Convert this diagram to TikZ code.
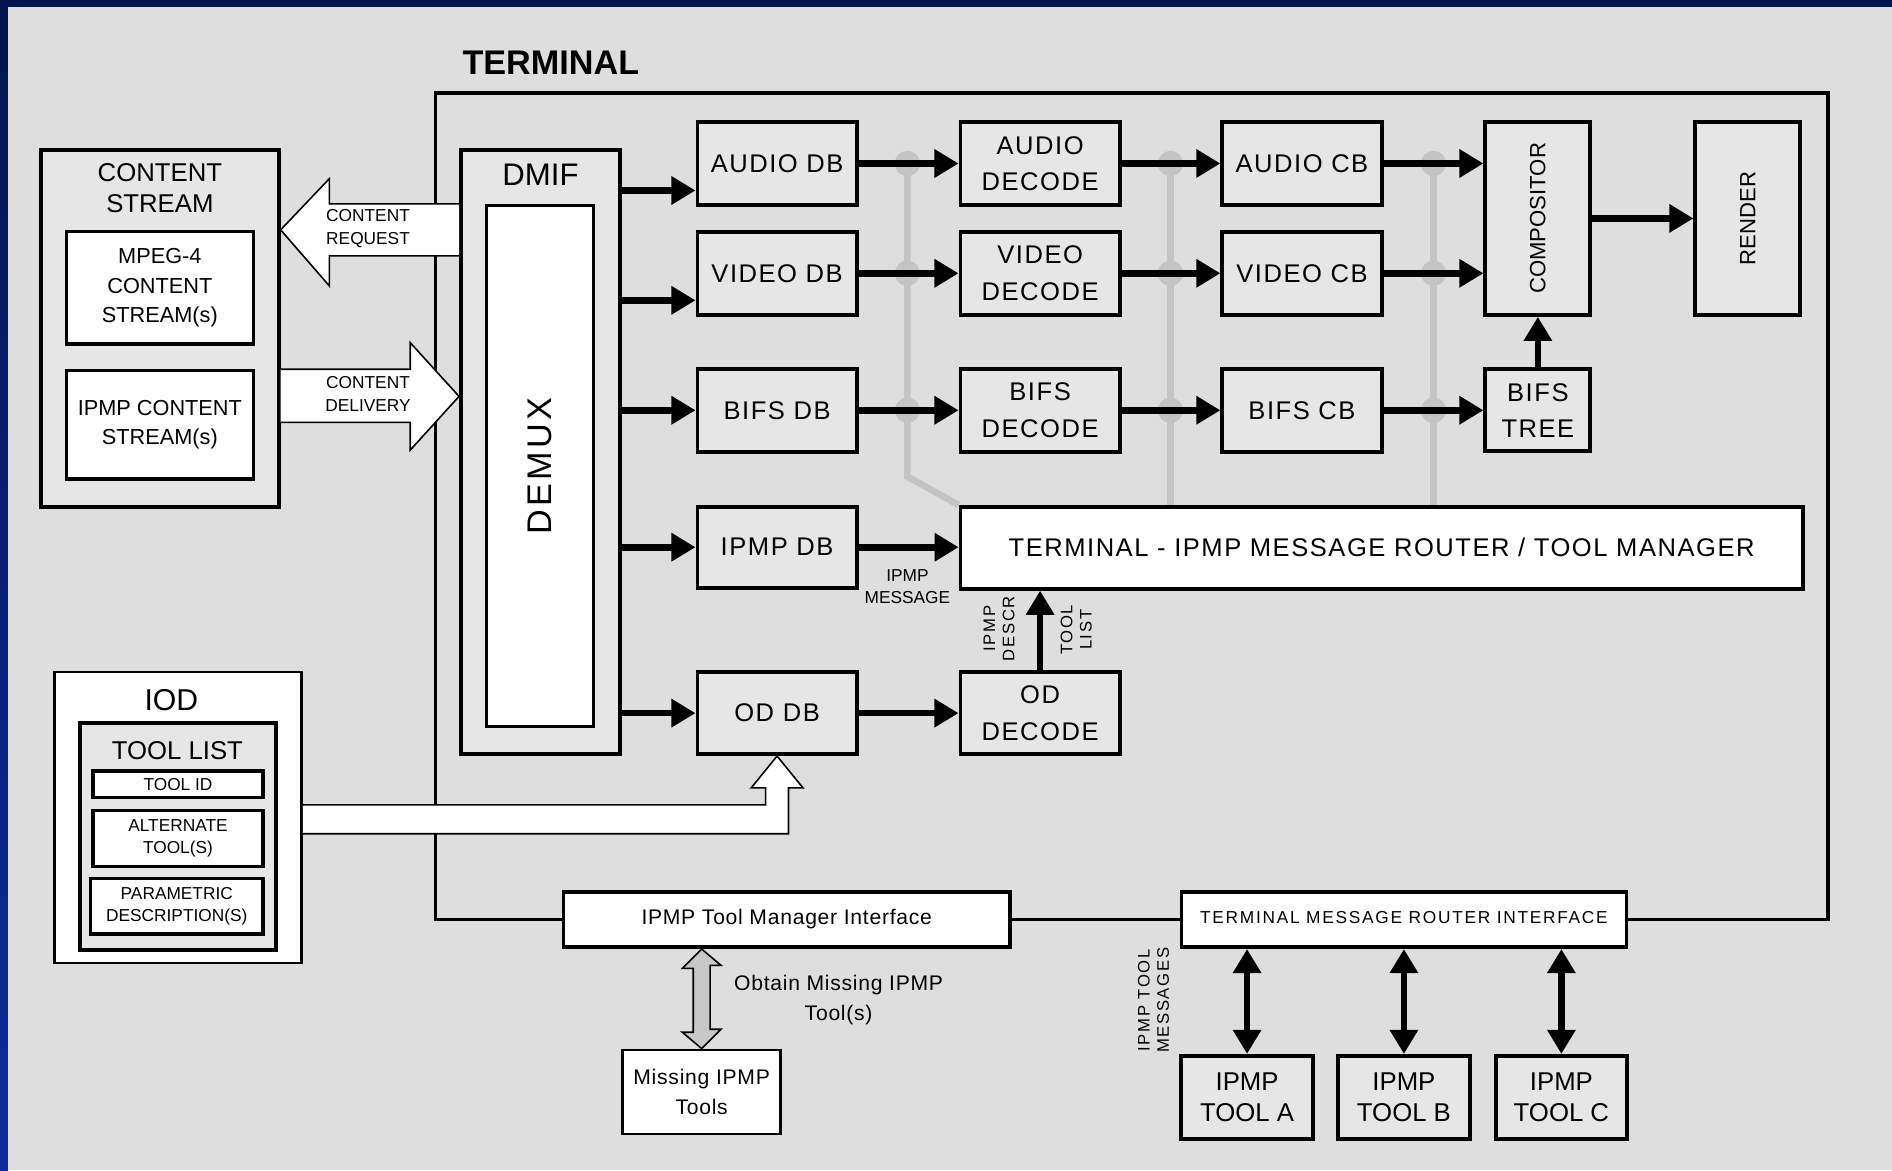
\documentclass[tikz,border=0pt]{standalone}
\usepackage{fontspec}
\setmainfont{Liberation Sans}
\newfontfamily\spacedfont[LetterSpace=6]{Liberation Sans}
\newfontfamily\widefont[LetterSpace=10]{Liberation Sans}
\newfontfamily\lightfont[LetterSpace=3.5]{Liberation Sans}
\usetikzlibrary{arrows.meta,positioning,calc,backgrounds}
\definecolor{bggray}{HTML}{DEDEDE}
\definecolor{boxgray}{HTML}{E6E6E6}
\definecolor{busgray}{HTML}{C4C4C4}
\definecolor{navy}{HTML}{03154F}
\definecolor{slideblue}{HTML}{0B2C9E}
\definecolor{hollowgray}{HTML}{C8C8C8}
\newcommand{\blkfont}{\spacedfont\fontsize{12.7}{18}\selectfont}
\newcommand{\hdfont}{\fontsize{12.8}{15.6}\selectfont}
\newcommand{\midfont}{\fontsize{10.8}{14.8}\selectfont}
\newcommand{\lblfont}{\fontsize{8.6}{11}\selectfont}
\newcommand{\msgfont}{\widefont\fontsize{8.3}{9.6}\selectfont}
\newcommand{\ifacefont}{\lightfont\fontsize{10.5}{15}\selectfont}
\newcommand{\tmrifont}{\widefont\fontsize{8.6}{10}\selectfont}
\begin{document}
\begin{tikzpicture}[x=0.6pt, y=-0.6pt,
  bx/.style 2 args={minimum width=#1*0.6pt, minimum height=#2*0.6pt, inner sep=0pt},
  blk/.style={draw, line width=1.9pt, fill=boxgray, align=center, font=\blkfont},
  wblk/.style={draw, line width=1.8pt, fill=white, align=center},
  arr/.style={-{Triangle[length=12pt,width=13.5pt]}, line width=3.3pt},
  darr/.style={{Triangle[length=12pt,width=13.5pt]}-{Triangle[length=12pt,width=13.5pt]}, line width=3.3pt},
  hollow/.style={draw, line width=0.8pt, fill=white, line join=miter},
  bus/.style={busgray, line width=3.3pt}
]
  \useasboundingbox (0,0) rectangle (1568,970);

  % Terminal frame
  \node[draw, line width=1.6pt, bx={1154}{685}] (terminal) at (938,419.5) {};
  \node[anchor=west, inner sep=0pt, font=\fontsize{17}{20}\selectfont\bfseries] (termlbl) at (383,52) {TERMINAL};

  % Content stream
  \node[blk, bx={197}{296}] (cstream) at (132.5,272) {};
  \node[font=\hdfont, align=center] (cstitle) at (132.5,156) {CONTENT\\STREAM};
  \node[wblk, bx={155}{93}, font=\midfont] (mpeg) at (132.5,238.5) {MPEG-4\\CONTENT\\STREAM(s)};
  \node[wblk, bx={155}{90}, font=\midfont] (ipmpcs) at (132.5,352) {IPMP CONTENT\\STREAM(s)};

  % DMIF
  \node[blk, bx={132}{501}] (dmif) at (448,374.5) {};
  \node[font=\fontsize{15.5}{18}\selectfont] (dmiflbl) at (448,145) {DMIF};
  \node[draw, line width=1.5pt, fill=white, rotate=90, bx={432}{89},
        font=\widefont\fontsize{17}{20}\selectfont] (demux) at (447.5,386) {DEMUX};

  % Buffers and decoders
  \foreach \nm/\lbl/\yy in {a/AUDIO/135.5, v/VIDEO/226.5, b/BIFS/340} {
    \node[blk, bx={132}{69}] (\nm db) at (644,\yy) {\lbl{} DB};
    \node[blk, bx={132}{69}] (\nm dec) at (862,\yy) {\lbl\\DECODE};
    \node[blk, bx={132}{69}] (\nm cb) at (1079,\yy) {\lbl{} CB};
  }
  \node[blk, bx={132}{67}] (idb) at (644,453.5) {IPMP DB};
  \node[blk, bx={132}{68}] (odb) at (644,591) {OD DB};
  \node[blk, bx={132}{68}] (oddec) at (862,591) {OD\\DECODE};

  % Compositor and render
  \node[blk, bx={87}{160}] (comp) at (1274.5,181) {};
  \node[rotate=90, font=\fontsize{11}{13}\selectfont] (complbl) at (comp) {COMPOSITOR};
  \node[blk, bx={87}{160}] (render) at (1448.5,181) {};
  \node[rotate=90, font=\fontsize{11}{13}\selectfont] (renderlbl) at (render) {RENDER};
  \node[blk, bx={87}{68}] (btree) at (1274.5,340) {BIFS\\TREE};

  % Message router
  \node[wblk, bx={698}{68}, font=\blkfont] (router) at (1145,454)
    {TERMINAL - IPMP MESSAGE ROUTER / TOOL MANAGER};

  % IOD
  \node[draw, line width=1.3pt, fill=white, bx={205}{241}] (iod) at (147.5,677.5) {};
  \node[font=\fontsize{15}{18}\selectfont] (iodlbl) at (142,580) {IOD};
  \node[blk, bx={163}{188}] (tlist) at (147.5,693) {};
  \node[font=\hdfont] (tlistlbl) at (147,622) {TOOL LIST};
  \node[wblk, line width=1.6pt, bx={141}{22}, font=\lblfont] (toolid) at (147.5,650) {TOOL ID};
  \node[wblk, line width=1.6pt, bx={141}{46}, font=\lblfont] (alttool) at (147.5,695) {ALTERNATE\\TOOL(S)};
  \node[wblk, line width=1.6pt, bx={143}{46}, font=\lblfont] (param) at (146.5,751) {PARAMETRIC\\DESCRIPTION(S)};

  % Interfaces
  \node[wblk, bx={370}{46}, font=\ifacefont] (tmi) at (652,762) {IPMP Tool Manager Interface};
  \node[wblk, bx={369}{46}, font=\tmrifont] (tmri) at (1163.5,762)
    {\raisebox{2.4pt}{TERMINAL MESSAGE ROUTER INTERFACE}};
  \node[draw, line width=1.2pt, fill=white, bx={131}{70}, align=center, font=\ifacefont]
    (missing) at (581.5,905) {Missing IPMP\\Tools};

  % IPMP tools
  \foreach \tn/\xx in {A/1033.5, B/1163.5, C/1294} {
    \node[blk, font=\hdfont, bx={109}{69}] (tool\tn) at (\xx,909.5) {IPMP\\TOOL \tn};
    \draw[darr] (tool\tn.north) -- (tool\tn.north |- tmri.south);
  }

  % Hollow arrows
  \draw[hollow] (dmif.west |- 0,169) -- (273,169) -- (273,148) -- (cstream.east |- 0,190.5)
    -- (273,237) -- (273,212) -- (dmif.west |- 0,212);
  \draw[hollow] (cstream.east |- 0,306) -- (340,306) -- (340,284) -- (dmif.west |- 0,328.5)
    -- (340,373) -- (340,350) -- (cstream.east |- 0,350);
  \draw[hollow] (iod.east |- 0,667) -- (634.5,667) -- (634.5,653) -- (622.5,653) -- (odb.south)
    -- (665.5,653) -- (653.5,653) -- (653.5,691) -- (iod.east |- 0,691);
  \draw[hollow, fill=hollowgray] (missing.north |- tmi.south) -- ++(-16,16) -- ++(9,0) -- ++(0,53)
    -- ++(-9,0) -- (missing.north) -- ++(16,-16) -- ++(-9,0) -- ++(0,-53) -- ++(9,0) -- cycle;

  % DMIF outputs
  \coordinate (ain) at ($(adb.north west)!0.81!(adb.south west)$);
  \coordinate (vin) at ($(vdb.north west)!0.81!(vdb.south west)$);
  \draw[arr] (dmif.east |- ain) -- (ain);
  \draw[arr] (dmif.east |- vin) -- (vin);
  \draw[arr] (dmif.east |- bdb.west) -- (bdb.west);
  \draw[arr] (dmif.east |- idb.west) -- (idb.west);
  \draw[arr] (dmif.east |- odb.west) -- (odb.west);

  % Media path
  \foreach \nm in {a,v,b} {
    \draw[arr] (\nm db.east) -- (\nm dec.west);
    \draw[arr] (\nm dec.east) -- (\nm cb.west);
  }
  \draw[arr] (acb.east) -- (comp.west |- acb.east);
  \draw[arr] (vcb.east) -- (comp.west |- vcb.east);
  \draw[arr] (bcb.east) -- (btree.west);
  \draw[arr] (btree.north) -- (comp.south);
  \draw[arr] (comp.east) -- (render.west);
  \draw[arr] (idb.east) -- (router.west |- idb.east);
  \draw[arr] (odb.east) -- (oddec.west);
  \draw[arr] (oddec.north) -- (oddec.north |- router.south);

  % Labels
  \node[font=\lblfont, align=center] (reqlbl) at (305,189.5) {CONTENT\\REQUEST};
  \node[font=\lblfont, align=center] (dellbl) at (305,326.5) {CONTENT\\DELIVERY};
  \node[font=\lblfont, align=center] (msglbl) at (752,486.5) {IPMP\\MESSAGE};
  \node[font=\msgfont, align=center, rotate=90] (descrlbl) at (828,521) {IPMP\\DESCR};
  \node[font=\msgfont, align=center, rotate=90] (toollbl) at (892,522) {TOOL\\LIST};
  \node[font=\msgfont, align=center, rotate=90] (toolmsg) at (956,829) {IPMP TOOL\\MESSAGES};
  \node[font=\ifacefont, align=center] (obtainlbl) at (695,829) {Obtain Missing IPMP\\Tool(s)};

  % Slide background and control bus
  \begin{scope}[on background layer]
    \fill[bggray] (0,0) rectangle (1568,970);
    \shade[top color=navy, bottom color=slideblue] (0,0) rectangle (6.5,970);
    \fill[navy] (0,0) rectangle (1568,6);
    \coordinate (bus1) at (752,135.5);
    \coordinate (bus2) at (970,135.5);
    \coordinate (bus3) at (1188,135.5);
    \draw[bus] (bus1) -- (bus1 |- 0,395) -- (router.north west);
    \draw[bus] (bus2) -- (bus2 |- router.north);
    \draw[bus] (bus3) -- (bus3 |- router.north);
    \foreach \gx in {752,970,1188} {
      \foreach \gy in {135.5,226.5,340} {
        \fill[busgray] (\gx,\gy) circle[radius=10.5];
      }
    }
  \end{scope}
\end{tikzpicture}
\end{document}
